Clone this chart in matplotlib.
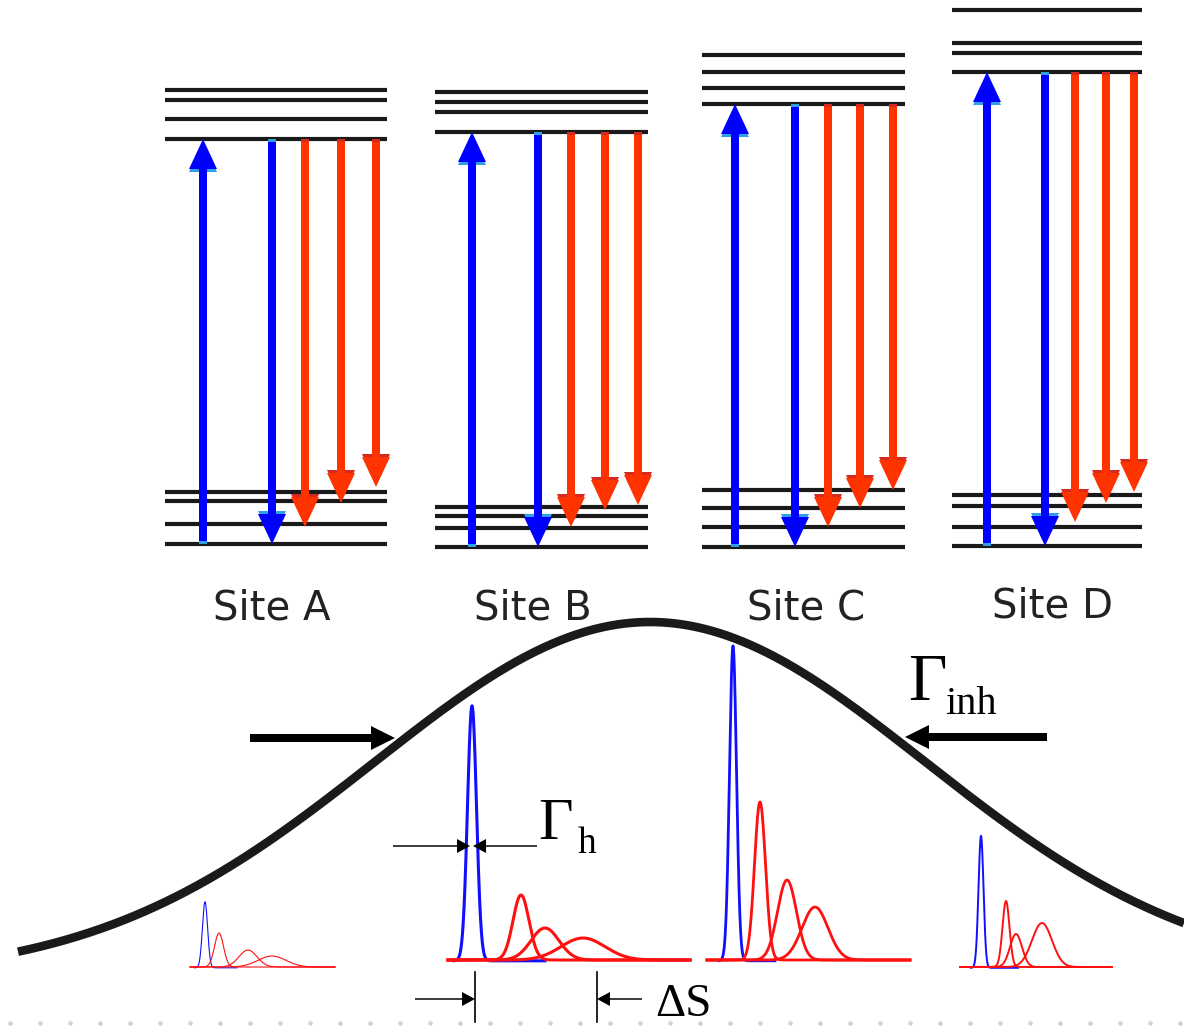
import numpy as np
import matplotlib
matplotlib.use("Agg")
import matplotlib.pyplot as plt
from matplotlib.patches import FancyArrow

# ---------------- data (pixel-space diagram) ----------------
sites = ["Site A", "Site B", "Site C", "Site D"]
site_label_x = [272, 533, 806, 1053]
site_label_y = [608, 608, 609, 607]
level_x0 = [165, 435, 702, 952]
level_x1 = [387, 648, 905, 1142]
upper_levels = [[90, 100, 119, 139], [92, 102, 112, 132], [55, 72, 88, 104], [10, 43, 53, 72]]
lower_levels = [[492, 501, 524, 544], [507, 516, 528, 547], [490, 508, 527, 547], [495, 506, 527, 546]]
blue_up_x = [203, 472, 735, 987]
blue_down_x = [272, 538, 795, 1045]
red_x = [[305, 341, 376], [571, 605, 638], [828, 860, 893], [1075, 1106, 1134]]
red_tip = [[527, 503, 487], [527, 510, 505], [527, 508, 490], [522, 503, 492]]

# inhomogeneous envelope (Gaussian): centre, peak y, amplitude, sigma
env_center, env_peak, env_amp, env_sigma = 650, 622, 355, 275

# small spectra per site
spec_x0 = [190, 448, 707, 960]
spec_x1 = [335, 690, 910, 1112]
spec_base = [967, 960, 960, 967]
blue_c = [205, 472, 733, 981]
blue_top = [901, 705, 645, 835]
blue_sig = [2.6, 4.5, 3.5, 2.5]
blue_end = [237, 545, 775, 1018]
red_c = [[219, 248, 272], [521, 545, 583], [760, 787, 815], [1006, 1016, 1042]]
red_top = [[933, 950, 956], [895, 928, 938], [802, 880, 907], [901, 934, 923]]
red_sig = [[4.5, 9, 14], [8, 14, 22], [5.5, 9.5, 13], [3.5, 6, 10]]
spec_lw = [0.8, 2.2, 2.0, 1.4]

BLUE = "#0000FF"
CYAN = "#2f9fe8"
RED = "#FF3300"
DARKRED = "#d42a20"
BLACK = "#1a1a1a"

fig = plt.figure(figsize=(11.84, 10.28), dpi=100)
ax = fig.add_axes([0, 0, 1, 1])
ax.set_xlim(0, 1184)
ax.set_ylim(1028, 0)
ax.axis("off")


def arrow(x, y0, y1, color, shade, w=8, hw=28, hl=30):
    d = y1 - y0
    s = np.sign(d)
    ax.add_patch(FancyArrow(x, y0, 0, d - 3 * s, width=w, head_width=hw, head_length=hl,
                            length_includes_head=True, color=shade, lw=0, zorder=3))
    ax.add_patch(FancyArrow(x, y0 + 3 * s, 0, d - 3 * s, width=w, head_width=hw, head_length=hl,
                            length_includes_head=True, color=color, lw=0, zorder=4))


# ---------------- energy level schemes ----------------
for i in range(4):
    for y in upper_levels[i] + lower_levels[i]:
        ax.plot([level_x0[i], level_x1[i]], [y, y], color=BLACK, lw=3.0,
                solid_capstyle="butt", zorder=2)
    top = upper_levels[i][-1]
    bot = lower_levels[i][-1]
    arrow(blue_up_x[i], bot, top, BLUE, CYAN)
    arrow(blue_down_x[i], top, bot, BLUE, CYAN)
    for xr, yt in zip(red_x[i], red_tip[i]):
        arrow(xr, top, yt, RED, DARKRED)
    ax.text(site_label_x[i], site_label_y[i], sites[i], fontsize=29, color="#222222",
            ha="center", va="center", family="DejaVu Sans")

# ---------------- inhomogeneous envelope ----------------
xe = np.linspace(18, 1184, 800)
ye = env_peak + env_amp * (1 - np.exp(-(xe - env_center) ** 2 / (2 * env_sigma ** 2)))
ax.plot(xe, ye, color=BLACK, lw=6.2, solid_capstyle="butt", zorder=5)

# ---------------- homogeneous spectra ----------------
for i in range(4):
    base = spec_base[i]
    xs = np.linspace(spec_x0[i], spec_x1[i], 600)
    for c, t, s in zip(red_c[i], red_top[i], red_sig[i]):
        ys = base - (base - t) * np.exp(-(xs - c) ** 2 / (2 * s ** 2))
        ax.plot(xs, ys, color="#ff1010", lw=spec_lw[i], zorder=6)
    xb = np.linspace(blue_c[i] - 4 * blue_sig[i], blue_end[i], 400)
    yb = base - (base - blue_top[i]) * np.exp(-(xb - blue_c[i]) ** 2 / (2 * blue_sig[i] ** 2))
    ax.plot(xb, yb + 0.8, color="#1010ff", lw=spec_lw[i], zorder=5.5)

# ---------------- annotations ----------------
# Gamma_inh arrows
ax.add_patch(FancyArrow(250, 738, 145, 0, width=8, head_width=24, head_length=24,
                        length_includes_head=True, color="black", lw=0, zorder=7))
ax.add_patch(FancyArrow(1047, 737, -142, 0, width=8, head_width=24, head_length=24,
                        length_includes_head=True, color="black", lw=0, zorder=7))
ax.text(908, 700, "Γ", fontsize=48, family="Liberation Serif", ha="left", va="baseline")
ax.text(945, 714, "inh", fontsize=29, family="Liberation Serif", ha="left", va="baseline")

# Gamma_h
ax.add_patch(FancyArrow(393, 846, 77, 0, width=1.5, head_width=14, head_length=13,
                        length_includes_head=True, color="black", lw=0, zorder=7))
ax.add_patch(FancyArrow(537, 846, -64, 0, width=1.5, head_width=14, head_length=13,
                        length_includes_head=True, color="black", lw=0, zorder=7))
ax.text(538, 839, "Γ", fontsize=43, family="Liberation Serif", ha="left", va="baseline")
ax.text(578, 853, "h", fontsize=27, family="Liberation Serif", ha="left", va="baseline")

# Delta S
ax.plot([475, 475], [972, 1022], color="black", lw=1.2, zorder=7)
ax.plot([597, 597], [972, 1022], color="black", lw=1.2, zorder=7)
ax.add_patch(FancyArrow(415, 999, 60, 0, width=1.5, head_width=14, head_length=13,
                        length_includes_head=True, color="black", lw=0, zorder=7))
ax.add_patch(FancyArrow(642, 999, -45, 0, width=1.5, head_width=14, head_length=13,
                        length_includes_head=True, color="black", lw=0, zorder=7))
ax.text(655, 1016, "ΔS", fontsize=34, family="Liberation Serif", ha="left", va="baseline")

# faint dotted rule at the bottom
dots_x = np.arange(10, 1184, 30)
ax.plot(dots_x, np.full_like(dots_x, 1023.0, dtype=float), ls="none", marker="o",
        ms=2.2, color="#d0d0d0", zorder=1)

fig.savefig("out.png", dpi=100)
